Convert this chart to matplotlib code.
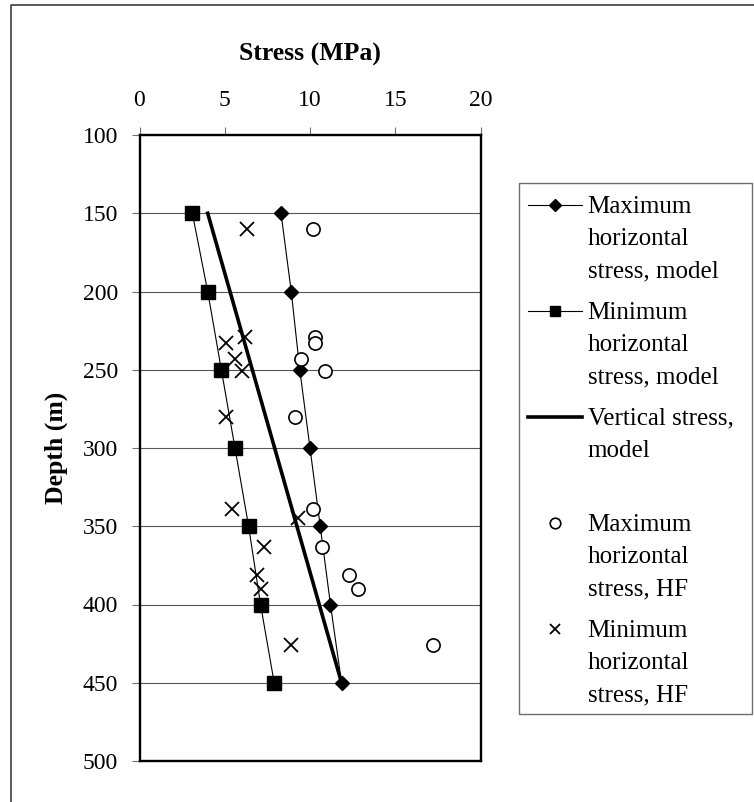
import matplotlib as mpl
import matplotlib.pyplot as plt
from matplotlib.lines import Line2D
from matplotlib.patches import Rectangle

# model values, every 50 m
model_depth = [150, 200, 250, 300, 350, 400, 450]
shmax_model = [8.3, 8.9, 9.4, 10.0, 10.6, 11.2, 11.85]
shmin_model = [3.1, 4.0, 4.8, 5.6, 6.4, 7.1, 7.9]
sv_depth = [150, 450]
sv_model = [4.0, 11.85]

# hydraulic fracturing measurements
hf_max_depth = [160, 229, 233, 243, 251, 280, 339, 363, 381, 390, 426]
hf_max = [10.2, 10.3, 10.3, 9.5, 10.9, 9.1, 10.2, 10.7, 12.3, 12.8, 17.2]
hf_min_depth = [160, 229, 233, 243, 251, 280, 339, 345, 363, 381, 390, 426]
hf_min = [6.3, 6.2, 5.1, 5.6, 6.0, 5.1, 5.4, 9.3, 7.3, 6.9, 7.1, 8.9]

x_ticks = [0, 5, 10, 15, 20]
y_ticks = [100, 150, 200, 250, 300, 350, 400, 450, 500]

legend_labels = [["Maximum", "horizontal", "stress, model"],
                 ["Minimum", "horizontal", "stress, model"],
                 ["Vertical stress,", "model"],
                 ["Maximum", "horizontal", "stress, HF"],
                 ["Minimum", "horizontal", "stress, HF"]]

mpl.rc('font', family=['Liberation Serif', 'DejaVu Serif'])
W, H = 754, 802
fig = plt.figure(figsize=(W / 100, H / 100), dpi=100)

ax = fig.add_axes([139.5 / W, 1 - 761 / H, 341 / W, 626 / H])

diamond = dict(color="black", lw=0.8, marker="D", ms=7.5)
square = dict(color="black", lw=0.8, marker="s", ms=9.5)
circle = dict(ls="none", marker="o", ms=9.5, mfc="white", mec="black", mew=1.2)
cross = dict(ls="none", marker="x", ms=9.5, color="black", mew=1.3)

ax.plot(shmax_model, model_depth, **diamond, zorder=3)
ax.plot(shmin_model, model_depth, **square, zorder=3)
ax.plot(sv_model, sv_depth, color="black", lw=2.6, zorder=3)
ax.plot(hf_max, hf_max_depth, **circle, zorder=4)
ax.plot(hf_min, hf_min_depth, **cross, zorder=4)

ax.set_xlim(0, 20)
ax.set_ylim(500, 100)
ax.set_xticks(x_ticks)
ax.set_yticks(y_ticks)
ax.xaxis.tick_top()
ax.tick_params(axis="both", direction="out", length=6, width=0.8, color="#707070", labelsize=17)
ax.tick_params(axis="x", pad=11)
ax.tick_params(axis="y", pad=9.5)
ax.grid(axis="y", color="#555555", lw=0.8)
ax.set_axisbelow(True)
for sp in ax.spines.values():
    sp.set_linewidth(1.7)
    sp.set_color("black")

ax.set_xlabel("Stress (MPa)", fontsize=18.5, fontweight="bold")
ax.xaxis.set_label_position("top")
ax.xaxis.set_label_coords(0.5, 1 + (135 - 61) / 626)
ax.set_ylabel("Depth (m)", fontsize=18.5, fontweight="bold")
ax.yaxis.set_label_coords((68 - 139.5) / 341, 0.5)

# legend box drawn by hand so the handles sit on the first text line
lw_, lh_ = 233.6, 531.6
lax = fig.add_axes([518.7 / W, 1 - 714.3 / H, lw_ / W, lh_ / H])
lax.set_xlim(0, lw_)
lax.set_ylim(lh_, 0)
lax.axis("off")
lax.add_patch(Rectangle((0, 0), lw_, lh_, fill=False, ec="#6e6e6e", lw=1.0, clip_on=False))

handles = [diamond, square, dict(color="black", lw=2.6), circle, cross]
for i, (lines, style) in enumerate(zip(legend_labels, handles)):
    base = 30 + i * 106
    hy = base - 8
    if i < 3:
        st = {k: v for k, v in style.items() if k not in ("marker", "ms")}
        lax.plot([9, 63], [hy, hy], **st)
        if "marker" in style:
            lax.plot([36], [hy], ls="none", marker=style["marker"], ms=style["ms"] * 0.75, color="black")
    else:
        st = dict(style)
        st["ms"] = style["ms"] * 0.8
        lax.plot([36], [hy], **st)
    for j, txt in enumerate(lines):
        lax.text(69, base + j * 32.3, txt, fontsize=18, va="baseline", ha="left")

# outer chart border (only left and top edges are visible in the crop)
fig.add_artist(Line2D([11 / W, 11 / W, 1], [0, 1 - 5 / H, 1 - 5 / H], color="#404040", lw=1.2))

fig.savefig("out.png", dpi=100)
